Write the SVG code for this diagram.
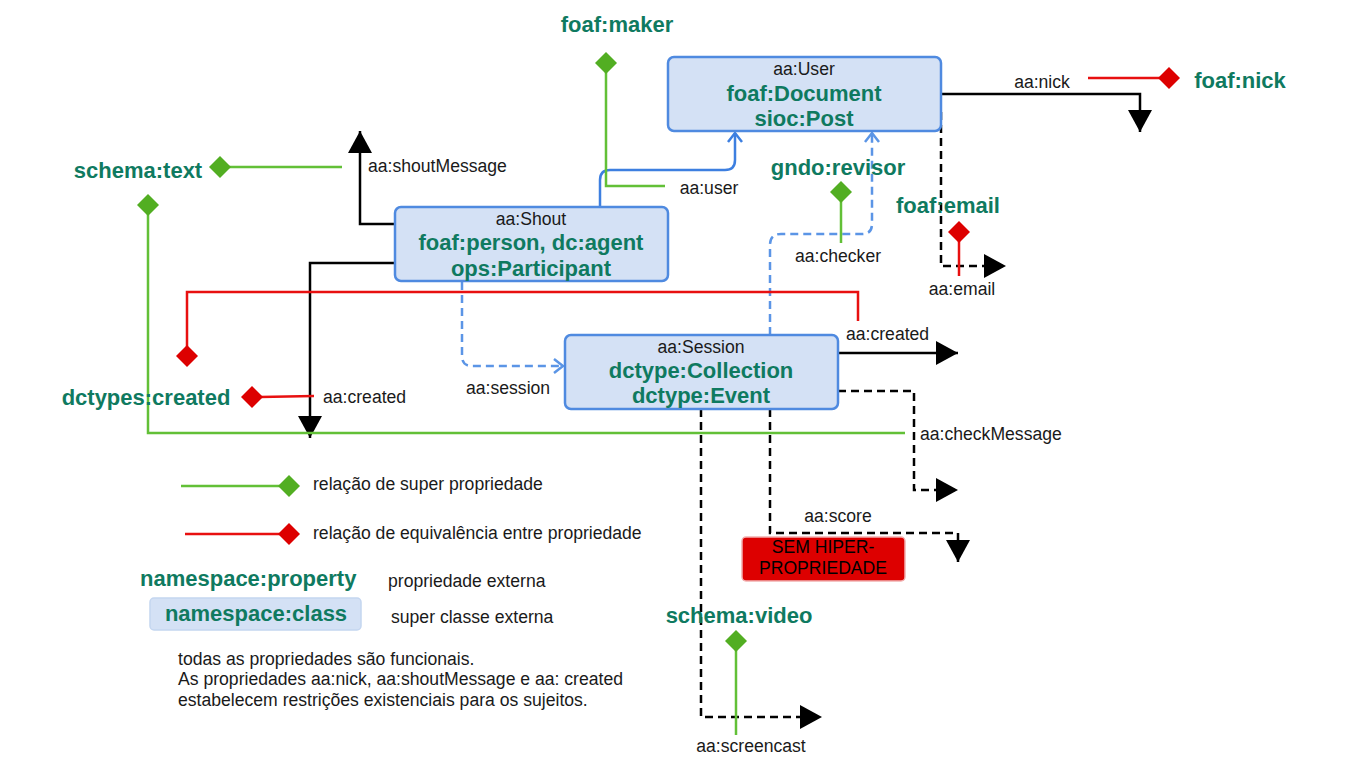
<svg xmlns="http://www.w3.org/2000/svg" width="1360" height="768" viewBox="0 0 1360 768">
<style>
.box{fill:#d4e1f5;stroke:#4f8ae0;stroke-width:2.5}
.t{font-family:"Liberation Sans",Arial,sans-serif;font-size:17.6px;fill:#1a1a1a}
.b{font-family:"Liberation Sans",Arial,sans-serif;font-size:22px;font-weight:bold;fill:#0f7a60}
.m{text-anchor:middle}
.k{fill:none;stroke:#000;stroke-width:2.5}
.kd{fill:none;stroke:#000;stroke-width:2.5;stroke-dasharray:8,5}
.bl{fill:none;stroke:#3d7fe0;stroke-width:2.5}
.bd{fill:none;stroke:#5b95e6;stroke-width:2.5;stroke-dasharray:8,5}
.g{fill:none;stroke:#62c037;stroke-width:2.5}
.r{fill:none;stroke:#e81010;stroke-width:2.5}
.gd{fill:#52ae22}
.rd{fill:#dd0000}
</style>
<defs>
<marker id="ah" markerUnits="userSpaceOnUse" markerWidth="24" markerHeight="26" refX="22" refY="12" orient="auto"><path d="M0,0 L22,12 L0,24 Z" fill="#000"/></marker>
<marker id="oa" markerUnits="userSpaceOnUse" markerWidth="14" markerHeight="18" refX="10" refY="8" orient="auto"><path d="M1,1 L10,8 L1,15" fill="none" stroke="#3d7fe0" stroke-width="2.5"/></marker>
<marker id="oa2" markerUnits="userSpaceOnUse" markerWidth="14" markerHeight="18" refX="10" refY="8" orient="auto"><path d="M1,1 L10,8 L1,15" fill="none" stroke="#5b95e6" stroke-width="2.5"/></marker>
<path id="dia" d="M0,-11 L11,0 L0,11 L-11,0 Z"/>
</defs>

<g id="connectors">
<!-- aa:user -->
<path class="bl" d="M600,207 L600,180 Q600,170 610,170 L725,170 Q735,170 735,160 L735,133" marker-end="url(#oa)"/>
<!-- aa:checker -->
<path class="bd" d="M770,335 L770,245 Q770,234 781,234 L862,234 Q872,234 872,224 L872,133" marker-end="url(#oa2)"/>
<!-- aa:session -->
<path class="bd" d="M462,282 L462,356 Q462,366 472,366 L563,366" marker-end="url(#oa2)"/>
<!-- aa:shoutMessage -->
<path class="k" d="M395,224 L360,224 L360,131" marker-end="url(#ah)"/>
<!-- aa:created (shout) -->
<path class="k" d="M395,263 L310,263 L310,438" marker-end="url(#ah)"/>
<!-- aa:nick -->
<path class="k" d="M941,94 L1140,94 L1140,132" marker-end="url(#ah)"/>
<!-- aa:email -->
<path class="kd" d="M941,112 L941,266 L1006,266" marker-end="url(#ah)"/>
<!-- aa:created (session) -->
<path class="k" d="M838,353 L958,353" marker-end="url(#ah)"/>
<!-- aa:checkMessage -->
<path class="kd" d="M838,391 L914,391 L914,490 L958,490" marker-end="url(#ah)"/>
<!-- aa:score -->
<path class="kd" d="M770,409 L770,533 L958,533 L958,562" marker-end="url(#ah)"/>
<!-- aa:screencast -->
<path class="kd" d="M701,409 L701,717 L822,717" marker-end="url(#ah)"/>

<!-- super property relations (green) -->
<path class="g" d="M606,70 L606,186 L665,186"/>
<use href="#dia" x="606" y="63" class="gd"/>
<path class="g" d="M228,167 L342,167"/>
<use href="#dia" x="220" y="167" class="gd"/>
<path class="g" d="M148,213 L148,433 L905,433"/>
<use href="#dia" x="148" y="205" class="gd"/>
<path class="g" d="M841,199 L841,243"/>
<use href="#dia" x="841" y="192" class="gd"/>
<path class="g" d="M736,648 L736,735"/>
<use href="#dia" x="736" y="641" class="gd"/>

<!-- equivalence relations (red) -->
<path class="r" d="M187,348 L187,292 L858,292 L858,321"/>
<use href="#dia" x="187" y="356" class="rd"/>
<path class="r" d="M260,397 L314,396"/>
<use href="#dia" x="252" y="397" class="rd"/>
<path class="r" d="M1088,78 L1162,78"/>
<use href="#dia" x="1169" y="78" class="rd"/>
<path class="r" d="M959,239 L959,276"/>
<use href="#dia" x="959" y="232" class="rd"/>
</g>

<g id="user">
<rect class="box" x="668" y="57" width="273" height="74" rx="6"/>
<text class="t m" x="804" y="75">aa:User</text>
<text class="b m" x="804" y="101">foaf:Document</text>
<text class="b m" x="804" y="126">sioc:Post</text>
</g>

<g id="shout">
<rect class="box" x="395" y="207" width="273" height="74" rx="6"/>
<text class="t m" x="531" y="225">aa:Shout</text>
<text class="b m" x="531" y="250">foaf:person, dc:agent</text>
<text class="b m" x="531" y="276">ops:Participant</text>
</g>

<g id="session">
<rect class="box" x="565" y="335" width="273" height="74" rx="6"/>
<text class="t m" x="701" y="353">aa:Session</text>
<text class="b m" x="701" y="378">dctype:Collection</text>
<text class="b m" x="701" y="403">dctype:Event</text>
</g>

<g id="sem-hiper">
<rect x="742" y="537" width="163" height="44" rx="4" fill="#dd0000" stroke="#f2b0b0" stroke-width="1.5"/>
<text class="t m" x="823" y="553" style="fill:#000">SEM HIPER-</text>
<text class="t m" x="823" y="574" style="fill:#000">PROPRIEDADE</text>
</g>

<g id="external-labels">
<text class="b m" x="617" y="32">foaf:maker</text>
<text class="b m" x="138" y="178">schema:text</text>
<text class="b m" x="838" y="175">gndo:revisor</text>
<text class="b m" x="948" y="213">foaf:email</text>
<text class="b m" x="1240" y="88">foaf:nick</text>
<text class="b m" x="146" y="405">dctypes:created</text>
<text class="b m" x="739" y="623">schema:video</text>
</g>

<g id="property-labels">
<text class="t m" x="1042" y="88">aa:nick</text>
<text class="t" x="368" y="172">aa:shoutMessage</text>
<text class="t m" x="709" y="194">aa:user</text>
<text class="t m" x="838" y="262">aa:checker</text>
<text class="t m" x="962" y="295">aa:email</text>
<text class="t" x="846" y="340">aa:created</text>
<text class="t" x="466" y="394">aa:session</text>
<text class="t" x="323" y="403">aa:created</text>
<text class="t" x="920" y="440">aa:checkMessage</text>
<text class="t m" x="838" y="522">aa:score</text>
<text class="t m" x="751" y="752">aa:screencast</text>
</g>

<g id="legend">
<path class="g" d="M181,486 L281,486"/>
<use href="#dia" x="289" y="486" class="gd"/>
<text class="t" x="313" y="490">relação de super propriedade</text>
<path class="r" d="M185,534 L281,534"/>
<use href="#dia" x="289" y="534" class="rd"/>
<text class="t" x="313" y="539">relação de equivalência entre propriedade</text>
<text class="b" x="140" y="586">namespace:property</text>
<text class="t" x="388" y="587">propriedade externa</text>
<rect x="150" y="598" width="211" height="32" rx="4" fill="#d4e1f5" stroke="#c4d6f0" stroke-width="1.5"/>
<text class="b m" x="256" y="621">namespace:class</text>
<text class="t" x="391" y="623">super classe externa</text>
<text class="t" x="178" y="665">todas as propriedades são funcionais.</text>
<text class="t" x="178" y="685">As propriedades aa:nick, aa:shoutMessage e aa: created</text>
<text class="t" x="178" y="706">estabelecem restrições existenciais para os sujeitos.</text>
</g>
</svg>
